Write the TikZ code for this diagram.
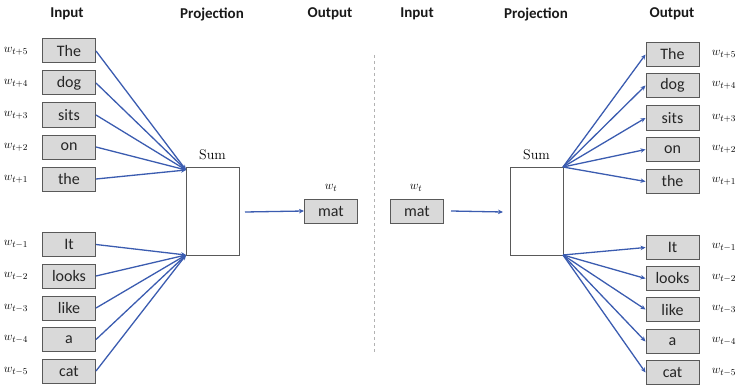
\documentclass[tikz,border=0pt]{standalone}
\usepackage{fontspec}
\newfontfamily\calfont{Carlito}
\usetikzlibrary{arrows.meta}
\definecolor{lineblue}{HTML}{3B5CB0}
\definecolor{boxfill}{HTML}{D9D9D9}
\definecolor{boxedge}{HTML}{595959}
\begin{document}
\begin{tikzpicture}[x=1pt,y=-1pt,
  word/.style={draw=boxedge, line width=1pt, fill=boxfill, minimum width=53pt, minimum height=24pt, inner sep=0pt, font=\calfont\fontsize{16}{16}\selectfont, text=black!85},
  sumbox/.style={draw=boxedge, line width=1pt, fill=white, minimum width=53pt, minimum height=88pt, inner sep=0pt},
  header/.style={font=\calfont\bfseries\fontsize{15}{15}\selectfont, text=black!90},
  wlab/.style={font=\fontsize{12.5}{12.5}\selectfont, inner sep=0pt},
  sumlab/.style={font=\fontsize{14}{14}\selectfont, inner sep=0pt},
  conn/.style={draw=lineblue, line width=1.3pt, -{Stealth[length=5pt,width=4.5pt]}}
]
\useasboundingbox (0,0) rectangle (738,385);

% headers
\node[header] (hInL) at (67,14) {Input};
\node[header] (hPrL) at (212,14) {Projection};
\node[header] (hOutL) at (330,14) {Output};
\node[header] (hInR) at (417,14) {Input};
\node[header] (hPrR) at (536,14) {Projection};
\node[header] (hOutR) at (672,14) {Output};

% divider
\coordinate (divT) at (374,55);
\coordinate (divB) at (374,353);
\draw[black!30, dashed, line width=0.8pt] (divT) -- (divB);

% ---------- left (CBOW) ----------
\node[word] (lThe) at (69,51) {The};
\node[word] (lDog) at (69,83) {dog};
\node[word] (lSits) at (69,115) {sits};
\node[word] (lOn) at (69,147) {on};
\node[word] (lThe2) at (69,179) {the};
\node[word] (lIt) at (69,244.5) {It};
\node[word] (lLooks) at (69,276) {looks};
\node[word] (lLike) at (69,308) {like};
\node[word] (lA) at (69,339.5) {a};
\node[word] (lCat) at (69,371) {cat};

\node[wlab] (wl5) at (16,51) {$w_{t+5}$};
\node[wlab] (wl4) at (16,83) {$w_{t+4}$};
\node[wlab] (wl3) at (16,115) {$w_{t+3}$};
\node[wlab] (wl2) at (16,147) {$w_{t+2}$};
\node[wlab] (wl1) at (16,179) {$w_{t+1}$};
\node[wlab] (wlm1) at (16,244.5) {$w_{t-1}$};
\node[wlab] (wlm2) at (16,276) {$w_{t-2}$};
\node[wlab] (wlm3) at (16,308) {$w_{t-3}$};
\node[wlab] (wlm4) at (16,339.5) {$w_{t-4}$};
\node[wlab] (wlm5) at (16,371) {$w_{t-5}$};

\node[sumbox] (sumL) at (212.5,211) {};
\node[sumlab] (sumLlab) at (212.5,155) {Sum};
\coordinate (inUp) at (186,170);
\coordinate (inLo) at (186,255);

\foreach \n in {lThe,lDog,lSits,lOn,lThe2}{\draw[conn] (\n.east) -- (inUp);}
\foreach \n in {lIt,lLooks,lLike,lA,lCat}{\draw[conn] (\n.east) -- (inLo);}

\node[word] (lMat) at (331,211) {mat};
\node[wlab] (wtL) at (331,188) {$w_t$};
\coordinate (outS) at (245,212);
\draw[conn] (outS) -- (lMat.west);

% ---------- right (Skip-gram) ----------
\node[word] (rMat) at (417,211) {mat};
\node[wlab] (wtR) at (416,188) {$w_t$};
\node[sumbox] (sumR) at (536.5,211) {};
\node[sumlab] (sumRlab) at (536.5,155) {Sum};
\coordinate (inR) at (503,212);
\draw[conn] (rMat.east) ++(7,0) -- (inR);

\node[word] (rThe) at (672.5,54.5) {The};
\node[word] (rDog) at (672.5,85.5) {dog};
\node[word] (rSits) at (672.5,118) {sits};
\node[word] (rOn) at (672.5,149.5) {on};
\node[word] (rThe2) at (672.5,181.5) {the};
\node[word] (rIt) at (672.5,247.5) {It};
\node[word] (rLooks) at (672.5,278.5) {looks};
\node[word] (rLike) at (672.5,309.5) {like};
\node[word] (rA) at (672.5,341.5) {a};
\node[word] (rCat) at (672.5,372.5) {cat};

\node[wlab] (wr5) at (724,54.5) {$w_{t+5}$};
\node[wlab] (wr4) at (724,85.5) {$w_{t+4}$};
\node[wlab] (wr3) at (724,118) {$w_{t+3}$};
\node[wlab] (wr2) at (724,149.5) {$w_{t+2}$};
\node[wlab] (wr1) at (724,181.5) {$w_{t+1}$};
\node[wlab] (wrm1) at (724,247.5) {$w_{t-1}$};
\node[wlab] (wrm2) at (724,278.5) {$w_{t-2}$};
\node[wlab] (wrm3) at (724,309.5) {$w_{t-3}$};
\node[wlab] (wrm4) at (724,341.5) {$w_{t-4}$};
\node[wlab] (wrm5) at (724,372.5) {$w_{t-5}$};

\coordinate (outUp) at (563,167);
\coordinate (outLo) at (563,255);
\foreach \n in {rThe,rDog,rSits,rOn,rThe2}{\draw[conn] (outUp) -- (\n.west);}
\foreach \n in {rIt,rLooks,rLike,rA,rCat}{\draw[conn] (outLo) -- (\n.west);}
\end{tikzpicture}
\end{document}
